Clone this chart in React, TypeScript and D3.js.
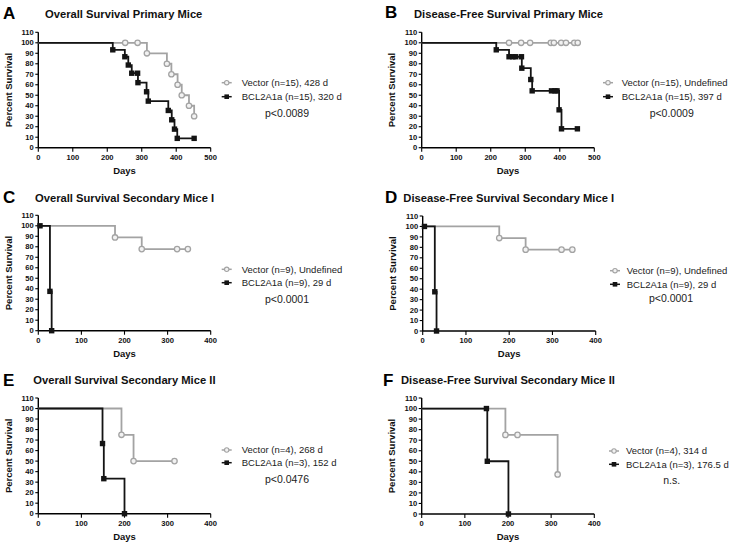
import React from "react";
import * as d3 from "d3";

// ---- data ----
const panelLetters = ["A", "B", "C", "D", "E", "F"];
const panelTitles = [
  "Overall Survival Primary Mice",
  "Disease-Free Survival Primary Mice",
  "Overall Survival Secondary Mice I",
  "Disease-Free Survival Secondary Mice I",
  "Overall Survival Secondary Mice II",
  "Disease-Free Survival Secondary Mice II",
];
const xMaxes = [500, 500, 400, 400, 400, 400];
const yTicks = [0, 10, 20, 30, 40, 50, 60, 70, 80, 90, 100, 110];
const vectorLabels = [
  "Vector (n=15), 428 d",
  "Vector (n=15), Undefined",
  "Vector (n=9), Undefined",
  "Vector (n=9), Undefined",
  "Vector (n=4), 268 d",
  "Vector (n=4), 314 d",
];
const bclLabels = [
  "BCL2A1a (n=15), 320 d",
  "BCL2A1a (n=15), 397 d",
  "BCL2A1a (n=9), 29 d",
  "BCL2A1a (n=9), 29 d",
  "BCL2A1a (n=3), 152 d",
  "BCL2A1a (n=3), 176.5 d",
];
const pValues = ["p<0.0089", "p<0.0009", "p<0.0001", "p<0.0001", "p<0.0476", "n.s."];

// survival curves: [day, percent survival]
const vectorA = [[252, 100], [288, 100], [315, 90], [373, 80], [386, 70], [404, 60], [416, 50], [437, 40], [452, 30]];
const bclA = [[216, 93.3], [251, 86.7], [261, 78.8], [271, 71], [288, 71], [289, 62], [314, 53.3], [319, 44.4], [377, 35.5], [387, 26.6], [395, 17.7], [403, 8.9], [452, 8.9]];
const vectorB = [[253, 100], [288, 100], [314, 100], [374, 100], [383, 100], [404, 100], [418, 100], [442, 100], [452, 100]];
const bclB = [[216, 93.3], [253, 86.7], [264, 86.7], [272, 86.7], [289, 86.7], [290, 75.8], [316, 65], [320, 54.2], [376, 54.2], [386, 54.2], [392, 54.2], [398, 36.1], [405, 18], [451, 18]];
const vectorC = [[178, 88.9], [240, 77.8], [322, 77.8], [347, 77.8]];
const bclC = [[4, 100], [27, 37.5], [31, 0]];
const vectorD = [[177, 88.9], [238, 77.8], [321, 77.8], [346, 77.8]];
const bclD = [[4, 100], [28, 37.5], [32, 0]];
const vectorE = [[193, 75], [221, 50], [316, 50]];
const bclE = [[149, 66.7], [152, 33.3], [200, 0]];
const vectorF = [[194, 75], [222, 75], [315, 37.5]];
const bclF = [[150, 100], [152, 50], [201, 0]];

const vectorSeries = [vectorA, vectorB, vectorC, vectorD, vectorE, vectorF];
const bclSeries = [bclA, bclB, bclC, bclD, bclE, bclF];

// ---- layout ----
const layouts = [
  { x0: 38.3, x1: 210.7, yT: 32.3, yB: 147.7, letterX: 3, letterY: 19, titleX: 45, titleY: 18.3, ylabX: 9, legMark: 226.7, legText: 241.7, legY1: 82.7, legY2: 96.7, pX: 287, pY: 113 },
  { x0: 421.7, x1: 594.3, yT: 32.3, yB: 147.7, letterX: 385, letterY: 17.5, titleX: 414, titleY: 18.3, ylabX: 392, legMark: 608, legText: 621.7, legY1: 82.7, legY2: 96.7, pX: 671.7, pY: 113 },
  { x0: 38.3, x1: 210.7, yT: 215.3, yB: 330.7, letterX: 3, letterY: 202.7, titleX: 35, titleY: 201.7, ylabX: 9, legMark: 226.7, legText: 241.7, legY1: 269.3, legY2: 282.7, pX: 287, pY: 299 },
  { x0: 422.7, x1: 595.7, yT: 216, yB: 331, letterX: 385, letterY: 203, titleX: 403.3, titleY: 202.3, ylabX: 392.5, legMark: 615, legText: 626.7, legY1: 270.7, legY2: 284.3, pX: 671, pY: 298.5 },
  { x0: 38.3, x1: 210.7, yT: 398, yB: 513.7, letterX: 3, letterY: 386, titleX: 33.3, titleY: 384.3, ylabX: 9, legMark: 226.7, legText: 241.7, legY1: 450, legY2: 462.7, pX: 287, pY: 479.3 },
  { x0: 421.7, x1: 594.3, yT: 398, yB: 514, letterX: 383, letterY: 386, titleX: 401, titleY: 384.3, ylabX: 392, legMark: 614, legText: 626, legY1: 451, legY2: 464.3, pX: 671.7, pY: 480 },
];

const GRAY = "#a3a3a3";
const BLACK = "#141414";
const FONT = "'Liberation Sans', Arial, sans-serif";

function stepPath(pts: number[][], x: any, y: any) {
  let d = `M${x(0)},${y(100)}`;
  let prev = 100;
  for (const [t, s] of pts) {
    d += `L${x(t)},${y(prev)}L${x(t)},${y(s)}`;
    prev = s;
  }
  return d;
}

function Panel({ i }: { i: number }) {
  const L = layouts[i];
  const xMax = xMaxes[i];
  const x = d3.scaleLinear().domain([0, xMax]).range([L.x0, L.x1]);
  const y = d3.scaleLinear().domain([0, 110]).range([L.yB, L.yT]);
  const xTicks = d3.range(0, xMax + 1, 100);
  const vec = vectorSeries[i];
  const bcl = bclSeries[i];
  const yMid = (L.yT + L.yB) / 2;
  return (
    <g fontFamily={FONT}>
      <text x={L.letterX} y={L.letterY} fontSize={17} fontWeight="bold" fill="#000">{panelLetters[i]}</text>
      <text x={L.titleX} y={L.titleY} fontSize={11.2} fontWeight="bold" fill="#111">{panelTitles[i]}</text>
      {/* axes */}
      <line x1={L.x0} x2={L.x0} y1={y(0)} y2={y(110)} stroke="#000" strokeWidth={1.4} />
      <line x1={L.x0} x2={L.x1} y1={y(0)} y2={y(0)} stroke="#000" strokeWidth={1.4} />
      {yTicks.map((t) => (
        <g key={"y" + t}>
          <line x1={L.x0 - 3} x2={L.x0} y1={y(t)} y2={y(t)} stroke="#000" strokeWidth={1.1} />
          <text x={L.x0 - 4.5} y={y(t)} dy="0.35em" fontSize={7.6} fontWeight="bold" textAnchor="end" fill="#111">{t}</text>
        </g>
      ))}
      {xTicks.map((t) => (
        <g key={"x" + t}>
          <line x1={x(t)} x2={x(t)} y1={y(0)} y2={y(0) + 4} stroke="#000" strokeWidth={1.1} />
          <text x={x(t)} y={y(0) + 12} fontSize={7.6} fontWeight="bold" textAnchor="middle" fill="#111">{t}</text>
        </g>
      ))}
      <text transform={`translate(${L.ylabX},${yMid}) rotate(-90)`} dy="0.35em" fontSize={9.5} fontWeight="bold" textAnchor="middle" fill="#111">Percent Survival</text>
      <text x={(L.x0 + L.x1) / 2} y={y(0) + 26} fontSize={9.5} fontWeight="bold" textAnchor="middle" fill="#111">Days</text>
      {/* curves */}
      <path d={stepPath(vec, x, y)} fill="none" stroke={GRAY} strokeWidth={1.8} />
      {vec.map(([t, s], k) => (
        <circle key={"c" + k} cx={x(t)} cy={y(s)} r={2.7} fill="#f2f2f2" stroke={GRAY} strokeWidth={1.3} />
      ))}
      <path d={stepPath(bcl, x, y)} fill="none" stroke={BLACK} strokeWidth={1.8} />
      {bcl.map(([t, s], k) => (
        <rect key={"s" + k} x={x(t) - 2.7} y={y(s) - 2.7} width={5.4} height={5.4} fill={BLACK} />
      ))}
      {/* legend */}
      <line x1={L.legMark - 5} x2={L.legMark + 5} y1={L.legY1} y2={L.legY1} stroke={GRAY} strokeWidth={1.5} />
      <circle cx={L.legMark} cy={L.legY1} r={2.2} fill="#f2f2f2" stroke={GRAY} strokeWidth={1.1} />
      <text x={L.legText} y={L.legY1} dy="0.35em" fontSize={9.5} fill="#222">{vectorLabels[i]}</text>
      <line x1={L.legMark - 5} x2={L.legMark + 5} y1={L.legY2} y2={L.legY2} stroke={BLACK} strokeWidth={1.5} />
      <rect x={L.legMark - 2.3} y={L.legY2 - 2.3} width={4.6} height={4.6} fill={BLACK} />
      <text x={L.legText} y={L.legY2} dy="0.35em" fontSize={9.5} fill="#222">{bclLabels[i]}</text>
      <text x={L.pX} y={L.pY} dy="0.35em" fontSize={10.5} textAnchor="middle" fill="#222">{pValues[i]}</text>
    </g>
  );
}

export default function App() {
  return (
    <svg width={733} height={546} style={{ position: "absolute", left: 0, top: 0, background: "#fff" }}>
      <rect width={733} height={546} fill="#fff" />
      {panelLetters.map((_, i) => (
        <Panel key={i} i={i} />
      ))}
    </svg>
  );
}
